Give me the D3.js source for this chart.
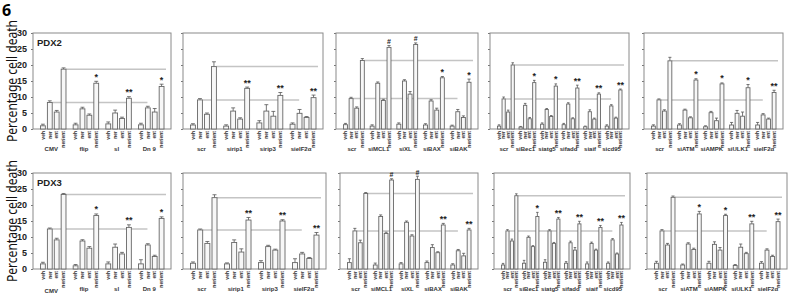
<!DOCTYPE html>
<html>
<head>
<meta charset="utf-8">
<script src="https://cdn.jsdelivr.net/npm/d3@7"></script>
<style>
  body { margin: 0; background: #fff; }
  svg { display: block; font-family: "Liberation Sans", Arial, sans-serif; }
</style>
</head>
<body>
<div id="wrapper"></div>
<script>
// 1. Data
const rowNames = ["PDX2", "PDX3"]
const barLabels = ["veh", "ner", "ent", "ner/ent"]
const yTicks = [0, 5, 10, 15, 20, 25, 30]
const panelGroups = [
  ["CMV", "flip", "sl", "Dn 9"],
  ["scr", "sirip1", "sirip3", "sieIF2α"],
  ["scr", "siMCL1", "siXL", "siBAX", "siBAK"],
  ["scr", "siBec1", "siatg5", "sifadd", "siaif", "sicd95"],
  ["scr", "siATM", "siAMPK", "siULK1", "sieIF2α"],
]

// values per panel -> group -> [veh, ner, ent, ner/ent]
const pdx2Values = [
  [[1.0, 8.3, 5.3, 18.7], [1.3, 6.3, 4.3, 14.3], [1.6, 5.0, 3.3, 9.6], [1.3, 6.6, 5.3, 13.3]],
  [[1.25, 9.1, 4.6, 19.5], [0.9, 5.6, 3.1, 12.7], [1.9, 5.6, 4.0, 10.5], [1.5, 4.9, 3.6, 9.8]],
  [[1.35, 9.5, 6.5, 21.4], [0.9, 14.3, 8.9, 25.5], [1.5, 15.0, 10.9, 26.4], [1.25, 8.75, 5.9, 16.0], [0.9, 5.4, 3.6, 14.6]],
  [[0.9, 9.4, 5.3, 20.0], [0.6, 7.4, 3.2, 14.5], [1.5, 6.1, 3.9, 13.4], [1.35, 7.8, 3.2, 12.8], [0.7, 5.4, 3.1, 10.9], [0.9, 7.2, 3.4, 12.2]],
  [[0.9, 9.1, 5.6, 21.3], [1.25, 5.9, 3.5, 15.3], [0.7, 5.1, 2.6, 14.1], [1.25, 4.9, 4.0, 12.9], [1.25, 4.4, 3.1, 11.4]],
]
const pdx2Errors = [
  [[0.5, 0.5, 0.5, 0.4], [0.5, 0.5, 0.4, 0.6], [0.6, 0.9, 0.4, 0.5], [0.5, 0.5, 1.1, 0.7]],
  [[0.4, 0.4, 0.4, 1.5], [0.4, 1.0, 0.4, 0.4], [0.7, 2.0, 1.5, 0.9], [0.4, 1.2, 0.3, 0.8]],
  [[0.4, 0.4, 0.4, 0.6], [0.4, 0.4, 0.4, 0.6], [0.4, 0.4, 0.8, 0.5], [0.4, 0.4, 0.6, 0.4], [0.3, 0.7, 0.5, 1.0]],
  [[0.4, 0.6, 0.6, 0.7], [0.2, 0.6, 0.4, 0.7], [0.4, 0.3, 0.3, 0.7], [0.4, 0.4, 0.3, 0.9], [0.2, 0.6, 0.3, 0.4], [0.4, 0.4, 0.3, 0.3]],
  [[0.4, 0.3, 0.4, 1.1], [0.4, 0.3, 0.3, 0.4], [0.3, 0.4, 0.8, 0.3], [0.8, 0.9, 1.3, 1.0], [0.8, 0.4, 0.3, 0.7]],
]
const pdx2Marks = [
  ["", "*", "**", "*"],
  ["", "**", "**", "**"],
  ["", "#", "#", "*", "*"],
  ["", "*", "*", "**", "**", "**"],
  ["", "*", "*", "*", "**"],
]

const pdx3Values = [
  [[1.6, 12.5, 9.1, 23.3], [1.0, 8.75, 6.5, 16.7], [1.6, 6.8, 4.7, 13.0], [1.6, 7.5, 3.9, 15.8]],
  [[1.8, 12.2, 8.0, 22.3], [1.6, 8.3, 5.3, 15.3], [2.0, 7.0, 5.9, 15.0], [2.0, 4.7, 3.3, 10.6]],
  [[2.0, 11.9, 8.2, 23.6], [1.25, 16.4, 11.1, 27.8], [1.6, 14.6, 10.3, 28.0], [2.0, 6.7, 5.1, 13.75], [1.25, 5.7, 4.1, 12.2]],
  [[1.25, 11.9, 8.75, 22.9], [1.8, 9.9, 7.0, 16.4], [2.1, 11.9, 8.0, 15.6], [1.8, 8.2, 5.9, 14.1], [1.6, 8.0, 5.9, 13.0], [1.8, 9.1, 4.7, 13.75]],
  [[1.8, 11.9, 7.5, 22.4], [1.25, 7.8, 6.1, 17.2], [1.8, 7.7, 5.9, 16.7], [1.1, 6.8, 4.8, 14.1], [1.8, 5.9, 3.9, 14.8]],
]
const pdx3Errors = [
  [[0.5, 0.3, 0.5, 0.3], [0.4, 0.4, 0.5, 0.5], [0.6, 1.0, 0.5, 0.8], [1.3, 0.4, 0.4, 0.5]],
  [[0.4, 0.3, 0.6, 0.9], [0.3, 0.8, 1.0, 0.8], [0.6, 0.4, 0.3, 0.4], [1.2, 0.5, 0.3, 0.8]],
  [[1.2, 0.8, 0.8, 0.3], [0.6, 0.5, 0.4, 0.4], [0.4, 0.4, 0.4, 1.0], [0.5, 0.9, 0.3, 0.5], [0.4, 0.4, 0.8, 0.5]],
  [[0.5, 0.4, 0.6, 0.6], [0.9, 0.4, 0.3, 1.3], [0.8, 0.4, 0.3, 0.5], [0.5, 0.5, 0.8, 0.8], [0.6, 0.4, 0.3, 0.6], [0.4, 0.4, 0.3, 0.8]],
  [[0.6, 0.4, 0.5, 0.4], [0.3, 0.4, 0.4, 0.8], [0.6, 0.8, 0.8, 0.4], [0.3, 1.0, 0.4, 0.8], [0.5, 0.4, 0.4, 0.8]],
]
const pdx3Marks = [
  ["", "*", "**", "*"],
  ["", "**", "**", "**"],
  ["", "#", "#", "**", "**"],
  ["", "*", "**", "**", "**", "**"],
  ["", "*", "*", "**", "**"],
]

const rowValues = [pdx2Values, pdx3Values]
const rowErrors = [pdx2Errors, pdx3Errors]
const rowMarks = [pdx2Marks, pdx3Marks]

// 2. Dimensions
const dimensions = { width: 800, height: 296 }
// frame top / bottom for each row
const rowFrames = [
  { top: 33, bottom: 129, groupLabelY: 151 },
  { top: 173, bottom: 269, groupLabelY: 291 },
]
// frame left/right for each panel in each row
const panelFrames = [
  [[33, 171], [183, 323], [336, 478], [490, 629], [644, 783]],
  [[33, 171], [183, 326], [340, 478], [494, 630], [647, 787]],
]

// 3. Canvas
const svg = d3.select("#wrapper")
  .append("svg")
  .attr("width", dimensions.width)
  .attr("height", dimensions.height)

svg.append("text")
  .attr("x", 2)
  .attr("y", 16)
  .style("font-family", "'Open Sans', sans-serif")
  .style("font-size", "16px")
  .style("font-weight", "bold")
  .text("6")

rowNames.forEach((rowName, r) => {
  const frame = rowFrames[r]
  const yScale = d3.scaleLinear()
    .domain([0, 30])
    .range([frame.bottom, frame.top])

  // y title
  svg.append("text")
    .attr("transform", `translate(17, ${(frame.top + frame.bottom) / 2}) rotate(-90)`)
    .attr("text-anchor", "middle")
    .attr("textLength", 122)
    .attr("lengthAdjust", "spacingAndGlyphs")
    .style("font-family", "'Noto Sans', sans-serif")
    .style("font-size", "14px")
    .attr("fill", "#111")
    .text("Percentage cell death")

  panelGroups.forEach((groups, p) => {
    const [x0, x1] = panelFrames[r][p]
    const values = rowValues[r][p]
    const errors = rowErrors[r][p]
    const marks = rowMarks[r][p]

    const xGroup = d3.scaleBand()
      .domain(groups)
      .range([x0 + 7.5, x1 - 7])
      .paddingInner(0.22)
    const xBar = d3.scaleBand()
      .domain(barLabels)
      .range([0, xGroup.bandwidth()])
      .paddingInner(0.3)

    const panel = svg.append("g")

    // y axis
    const yAxis = d3.axisLeft(yScale)
      .tickValues(yTicks)
      .tickSize(2)
      .tickPadding(4)
    if (p > 0) yAxis.tickFormat(() => "")
    const yAxisG = panel.append("g")
      .attr("transform", `translate(${x0}, 0)`)
      .call(yAxis)
    yAxisG.select(".domain").remove()
    yAxisG.selectAll(".tick line").attr("stroke", "#777")
    yAxisG.selectAll(".tick text")
      .attr("fill", "#222")
      .style("font-family", "'Liberation Sans', Arial, sans-serif")
      .style("font-size", "9px")
      .style("font-weight", "bold")

    // frame
    panel.append("rect")
      .attr("x", x0)
      .attr("y", frame.top)
      .attr("width", x1 - x0)
      .attr("height", frame.bottom - frame.top)
      .attr("fill", "none")
      .attr("stroke", "#8a8a8a")
      .attr("stroke-width", 1)

    // reference lines at control levels
    const ctrl = values[0]
    const last = groups[groups.length - 1]
    panel.append("line")
      .attr("x1", xGroup(groups[0]) + xBar("ner/ent") + xBar.bandwidth())
      .attr("x2", xGroup(last) + xGroup.bandwidth() + 2)
      .attr("y1", yScale(ctrl[3]))
      .attr("y2", yScale(ctrl[3]))
      .attr("stroke", "#c4c4c4")
      .attr("stroke-width", 1.5)
    panel.append("line")
      .attr("x1", xGroup(groups[0]) + xBar("ner") + xBar.bandwidth())
      .attr("x2", xGroup(last) + xGroup.bandwidth() * 0.35)
      .attr("y1", yScale(ctrl[1]))
      .attr("y2", yScale(ctrl[1]))
      .attr("stroke", "#c4c4c4")
      .attr("stroke-width", 1.5)

    const groupSel = panel.selectAll(".group")
      .data(groups)
      .join("g")
      .attr("class", "group")
      .attr("transform", d => `translate(${xGroup(d)}, 0)`)

    const barData = (g, i) => barLabels.map((b, j) => ({
      label: b, value: values[i][j], err: errors[i][j]
    }))

    // error bars
    groupSel.selectAll(".err")
      .data(barData)
      .join("g")
      .attr("class", "err")
      .each(function (d) {
        const cx = xBar(d.label) + xBar.bandwidth() / 2
        const g = d3.select(this)
        g.append("line")
          .attr("x1", cx).attr("x2", cx)
          .attr("y1", yScale(d.value)).attr("y2", yScale(d.value + d.err))
          .attr("stroke", "#555").attr("stroke-width", 0.8)
        g.append("line")
          .attr("x1", cx - xBar.bandwidth() * 0.4).attr("x2", cx + xBar.bandwidth() * 0.4)
          .attr("y1", yScale(d.value + d.err)).attr("y2", yScale(d.value + d.err))
          .attr("stroke", "#555").attr("stroke-width", 0.8)
      })

    // bars
    groupSel.selectAll(".bar")
      .data(barData)
      .join("rect")
      .attr("class", "bar")
      .attr("x", d => xBar(d.label))
      .attr("y", d => yScale(d.value))
      .attr("width", xBar.bandwidth())
      .attr("height", d => yScale(0) - yScale(d.value))
      .attr("fill", "#f7f7f7")
      .attr("stroke", "#666")
      .attr("stroke-width", 0.9)

    // significance marks
    groupSel.append("text")
      .attr("x", xBar("ner/ent") + xBar.bandwidth() / 2)
      .attr("y", (d, i) => yScale(values[i][3] + errors[i][3]) - 1.5)
      .attr("text-anchor", "middle")
      .style("font-size", (d, i) => marks[i] === "#" ? "7px" : "9px")
      .style("font-weight", "bold")
      .attr("fill", "#222")
      .text((d, i) => marks[i])

    // bar labels
    groupSel.selectAll(".blabel")
      .data(barLabels)
      .join("text")
      .attr("class", "blabel")
      .attr("transform", d => `translate(${xBar(d) + xBar.bandwidth() / 2}, ${frame.bottom + 2}) rotate(-90)`)
      .attr("dy", "0.35em")
      .attr("text-anchor", "end")
      .style("font-size", "5px")
      .style("font-weight", "bold")
      .attr("fill", "#333")
      .text(d => d)

    // group labels
    groupSel.append("text")
      .attr("x", xGroup.bandwidth() / 2 - 2)
      .attr("y", (d, i) => (r === 1 && p === 0 && i === 0) ? frame.groupLabelY + 2 : frame.groupLabelY)
      .attr("text-anchor", "middle")
      .style("font-size", "6px")
      .style("font-weight", "bold")
      .attr("fill", "#333")
      .text(d => d)

    // row label in first panel
    if (p === 0) {
      panel.append("text")
        .attr("x", x0 + 4)
        .attr("y", frame.top + 13)
        .style("font-size", "9.5px")
        .style("font-weight", "bold")
        .attr("fill", "#222")
        .text(rowName)
    }
  })
})
</script>
</body>
</html>
